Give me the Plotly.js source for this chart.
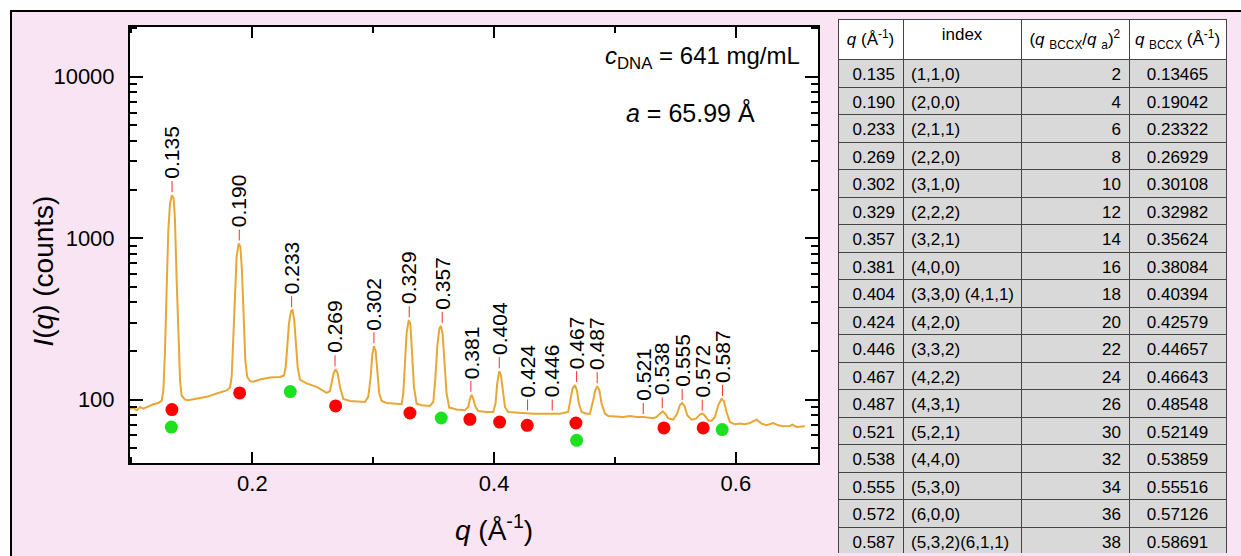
<!DOCTYPE html>
<html>
<head>
<meta charset="utf-8">
<script src="https://cdn.plot.ly/plotly-3.0.1.min.js"></script>
<style>
  html, body { margin:0; padding:0; background:#ffffff; width:1241px; height:556px; overflow:hidden; }
  #frame { position:absolute; left:10px; top:10px; width:1231px; height:546px; box-sizing:border-box;
           background:#F9E4F3; border-top:2px solid #000; border-left:2px solid #000; }
  #plot { position:absolute; left:0; top:0; width:1229px; height:544px; }
</style>
</head>
<body>
<div id="frame"><div id="plot"></div></div>
<script>
// ---- SAXS curve (q in 1/Å, intensity in counts) ----
const curveQ = [
  0.0988,0.1016,0.1043,0.1071,0.1098,0.1140,0.1181,0.1222,0.1250,
  0.1264,0.1277,0.1291,0.1305,0.1319,0.1335,0.1349,0.1360,0.1374,0.1388,0.1402,0.1415,0.1443,0.1470,
  0.1539,0.1622,0.1705,0.1788,0.1815,
  0.1829,0.1843,0.1856,0.1870,0.1887,0.1901,0.1914,0.1928,0.1942,0.1958,0.1981,0.2008,
  0.2063,0.2146,0.2229,0.2262,
  0.2276,0.2289,0.2303,0.2320,0.2333,0.2347,0.2361,0.2375,0.2394,
  0.2449,0.2532,0.2615,0.2642,
  0.2656,0.2673,0.2689,0.2706,0.2725,0.2753,0.2808,0.2890,
  0.2932,0.2959,0.2979,0.2992,0.3006,0.3020,0.3034,0.3050,0.3070,0.3111,0.3166,0.3235,
  0.3249,0.3263,0.3276,0.3293,0.3307,0.3320,0.3337,0.3359,0.3401,0.3469,
  0.3497,0.3513,0.3530,0.3547,0.3560,0.3574,0.3591,0.3607,0.3629,0.3690,0.3759,
  0.3786,0.3800,0.3814,0.3828,0.3844,0.3869,0.3938,0.3993,
  0.4012,0.4026,0.4043,0.4057,0.4070,0.4090,0.4117,0.4214,0.4324,0.4434,0.4545,
  0.4613,0.4633,0.4649,0.4669,0.4685,0.4702,0.4724,0.4765,
  0.4793,0.4820,0.4837,0.4854,0.4871,0.4889,0.4917,0.4944,0.5013,0.5068,0.5124,0.5179,0.5234,0.5317,
  0.5344,0.5372,0.5394,0.5416,0.5441,0.5482,
  0.5515,0.5537,0.5556,0.5576,0.5598,0.5634,
  0.5670,0.5703,0.5722,0.5741,0.5772,0.5799,
  0.5827,0.5854,0.5882,0.5901,0.5923,0.5951,
  0.5992,0.6034,0.6075,0.6116,0.6172,0.6213,0.6254,0.6309,0.6351,0.6392,0.6447,0.6469,0.6502,0.6571
];
const curveI = [
  87.9,88.7,85.8,90.0,87.9,90.9,93.5,95.3,98.1,
  114,193,476,1121,1640,1848,1762,1293,549,233,132,106,100,99.0,
  101,104,109,114,119,
  138,245,476,766,927,884,633,310,175,138,130,129,
  133,137,138,141,
  159,212,296,353,358,310,222,159,133,
  126,120,110,113,
  129,146,154,145,120,101,98.1,96.7,
  96.7,104,138,188,214,200,152,109,98.1,95.3,94.4,93.5,
  109,167,256,310,296,202,120,94.4,92.2,91.3,
  96.7,132,212,275,286,256,167,109,89.2,86.7,85.8,
  90.0,101,107,101,90.9,85.0,83.8,83.8,
  94.4,126,150,141,114,90.0,83.8,82.6,81.8,81.8,81.8,
  83.8,99.0,117,123,114,94.4,83.8,81.8,
  81.8,99.0,114,121,114,94.4,81.8,79.2,78.8,78.0,79.2,78.0,78.0,76.6,
  78.0,81.8,84.6,81.8,76.6,75.1,
  81.8,92.2,95.3,90.9,79.9,75.1,
  76.2,80.7,81.8,79.9,74.4,73.7,
  78.0,92.2,101,98.1,83.8,72.7,
  70.3,71.0,70.3,71.6,75.1,71.0,69.3,71.6,69.3,68.3,68.6,70.0,67.7,68.3
];

// ---- marker dots ----
const redQ = [0.1335,0.1895,0.2689,0.3304,0.3800,0.4046,0.4274,0.4677,0.5405,0.5730];
const redI = [86.7,109.9,91.3,82.6,75.5,72.6,69.3,71.6,66.7,66.7];
const greenQ = [0.1330,0.2314,0.3563,0.4683,0.5887];
const greenI = [67.6,112.1,76.9,55.9,65.2];

// ---- table (also used for the peak labels) ----
const tblQ = ['0.135','0.190','0.233','0.269','0.302','0.329','0.357','0.381','0.404','0.424','0.446','0.467','0.487','0.521','0.538','0.555','0.572','0.587'];
const tblIndex = ['(1,1,0)','(2,0,0)','(2,1,1)','(2,2,0)','(3,1,0)','(2,2,2)','(3,2,1)','(4,0,0)','(3,3,0) (4,1,1)','(4,2,0)','(3,3,2)','(4,2,2)','(4,3,1)','(5,2,1)','(4,4,0)','(5,3,0)','(6,0,0)','(5,3,2)(6,1,1)'];
const tblRatio = [2,4,6,8,10,12,14,16,18,20,22,24,26,30,32,34,36,38];
const tblQbccx = ['0.13465','0.19042','0.23322','0.26929','0.30108','0.32982','0.35624','0.38084','0.40394','0.42579','0.44657','0.46643','0.48548','0.52149','0.53859','0.55516','0.57126','0.58691'];
const tblHeader = ['<i>q</i> (Å<sup>-1</sup>)','index','(<i>q</i> <sub>BCCX</sub>/<i>q</i> <sub>a</sub>)<sup>2</sup>','<i>q</i> <sub>BCCX</sub> (Å<sup>-1</sup>)'];

// ---- peak label anchor positions (q) and intensities at the label tick ----
const peakQ = [0.1336,0.1892,0.2325,0.2684,0.3006,0.3298,0.3571,0.3808,0.4043,0.4277,0.4481,0.4683,0.4853,0.5234,0.5391,0.5556,0.5722,0.5890];
const peakI = [1848,927,358,154,214,310,286,107,150,82,82,123,121,78,84.6,95.3,81.8,101];

const FONT = 'Arial, "Liberation Sans", sans-serif';
const nb = s => String(s).replace(/ /g, '\u00A0');   // keep table texts on one line

// geometry of the plot area (used to turn pixel offsets of the label ticks into log-axis factors)
const PLOT_H = 544, MARGIN = {l:118, r:14, t:7, b:3, pad:0};
const Y_DOMAIN = [0.1685, 0.985], Y_RANGE = [1.607, 4.308];
const decPerPx = (Y_RANGE[1]-Y_RANGE[0]) / ((Y_DOMAIN[1]-Y_DOMAIN[0]) * (PLOT_H - MARGIN.t - MARGIN.b));
const TICK_GAP = 3, TICK_LEN = 11;

// red label ticks: one segment above each labelled peak
const tickX = [], tickY = [];
peakQ.forEach((q,i) => {
  tickX.push(q, q, null);
  tickY.push(peakI[i]*Math.pow(10, TICK_GAP*decPerPx), peakI[i]*Math.pow(10, (TICK_GAP+TICK_LEN)*decPerPx), null);
});

const traces = [
  { type:'scatter', mode:'lines', x:curveQ, y:curveI, xaxis:'x', yaxis:'y',
    line:{color:'#E8A735', width:2}, hoverinfo:'skip', showlegend:false },
  { type:'scatter', mode:'lines', x:tickX, y:tickY, xaxis:'x', yaxis:'y', connectgaps:false,
    line:{color:'#FF2A2A', width:1}, hoverinfo:'skip', showlegend:false },
  { type:'scatter', mode:'markers', x:redQ, y:redI, xaxis:'x', yaxis:'y',
    marker:{color:'#FF0000', size:13, line:{width:0}}, showlegend:false },
  { type:'scatter', mode:'markers', x:greenQ, y:greenI, xaxis:'x', yaxis:'y',
    marker:{color:'#1FE01F', size:13, line:{width:0}}, showlegend:false },
  { type:'table', domain:{x:[0.6454,1], y:[0,1]},
    columnwidth:[65,118,108,97],
    header:{ values:tblHeader.map(nb), align:['center','center','center','center'],
             height:38, fill:{color:'#FFFFFF'}, line:{color:'#444', width:1},
             font:{family:FONT, size:17, color:'#000'} },
    cells:{ values:[tblQ, tblIndex.map(nb), tblRatio, tblQbccx], align:['right','left','right','center'],
            height:27.5, fill:{color:'#D9D9D9'}, line:{color:'#444', width:1},
            font:{family:FONT, size:17, color:'#000'} } }
];

const annotations = peakQ.map((q,i) => ({
  x:q, y:Math.log10(peakI[i]), xref:'x', yref:'y', text:tblQ[i], textangle:-90,
  showarrow:false, xanchor:'center', yanchor:'bottom', yshift:TICK_GAP+TICK_LEN+1, borderpad:0,
  font:{family:FONT, size:21, color:'#000'}
}));
annotations.push(
  { xref:'paper', yref:'paper', x:0.6123, y:0.9288, xanchor:'right', yanchor:'middle', showarrow:false,
    text:'<i>c</i><sub>DNA</sub> = 641 mg/mL', font:{family:FONT, size:24, color:'#000'} },
  { xref:'paper', yref:'paper', x:0.5716, y:0.8258, xanchor:'right', yanchor:'middle', showarrow:false,
    text:'<i>a</i> = 65.99 Å', font:{family:FONT, size:25, color:'#000'} },
  { xref:'paper', yref:'paper', x:0.3318, y:0.0468, xanchor:'center', yanchor:'middle', showarrow:false,
    text:'<i>q</i> (Å<sup>-1</sup>)', font:{family:FONT, size:28, color:'#000'} },
  { xref:'paper', yref:'paper', x:-0.0784, y:0.529, xanchor:'center', yanchor:'middle', showarrow:false,
    textangle:-90, text:'<i>I</i>(<i>q</i>) (counts)', font:{family:FONT, size:28, color:'#000'} }
);

const layout = {
  width:1229, height:PLOT_H,
  margin:MARGIN,
  paper_bgcolor:'rgba(0,0,0,0)', plot_bgcolor:'#FFFFFF',
  showlegend:false,
  font:{family:FONT, size:22, color:'#000'},
  xaxis:{ domain:[0,0.6272], range:[0.0988,0.668], showgrid:false, zeroline:false,
          showline:true, linecolor:'#000', linewidth:2, mirror:'ticks',
          ticks:'inside', ticklen:11, tickwidth:2, tickcolor:'#000',
          tick0:0, dtick:0.2, tickformat:'.1f',
          minor:{ticks:'inside', ticklen:6, tickwidth:2, tickcolor:'#000', dtick:0.1, showgrid:false},
          tickfont:{family:FONT, size:22, color:'#000'} },
  yaxis:{ domain:Y_DOMAIN, type:'log', range:Y_RANGE, showgrid:false, zeroline:false,
          showline:true, linecolor:'#000', linewidth:2, mirror:'ticks',
          ticks:'inside', ticklen:13, tickwidth:2, tickcolor:'#000',
          dtick:1, tickformat:'d', exponentformat:'none', ticklabelstandoff:9,
          minor:{ticks:'inside', ticklen:7, tickwidth:2, tickcolor:'#000', dtick:'D1', showgrid:false},
          tickfont:{family:FONT, size:22, color:'#000'} },
  annotations:annotations
};

Plotly.newPlot('plot', traces, layout, {staticPlot:true, displayModeBar:false});
</script>
</body>
</html>
